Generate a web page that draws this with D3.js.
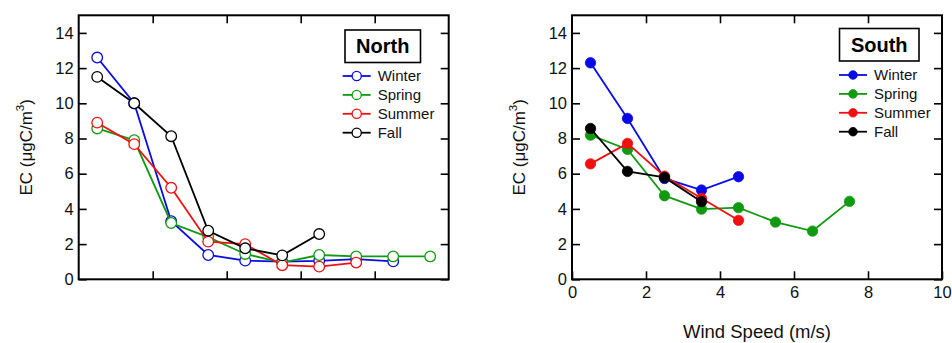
<!DOCTYPE html>
<html>
<head>
<meta charset="utf-8">
<script src="https://cdn.jsdelivr.net/npm/d3@7"></script>
<style>
  html, body { margin: 0; padding: 0; background: #fff; }
  svg { display: block; font-family: "Liberation Sans", Arial, Helvetica, sans-serif; }
</style>
</head>
<body>
<svg id="chart" width="952" height="343"></svg>
<script>
// Wind speed bins (m/s), bin centres
const northSpeeds = [0.5, 1.5, 2.5, 3.5, 4.5, 5.5, 6.5, 7.5, 8.5, 9.5];
const southSpeeds = [0.5, 1.5, 2.5, 3.5, 4.5, 5.5, 6.5, 7.5];

// EC concentration (µgC/m3) by season, North site
const northWinter = [12.6, 10.0, 3.3, 1.38, 1.06, 1.0, 1.05, 1.15, 1.02];
const northSpring = [8.57, 7.9, 3.2, 2.4, 1.44, 0.95, 1.38, 1.3, 1.3, 1.3];
const northSummer = [8.9, 7.68, 5.2, 2.14, 2.0, 0.8, 0.72, 0.95];
const northFall   = [11.5, 10.0, 8.13, 2.76, 1.76, 1.36, 2.57];

// EC concentration (µgC/m3) by season, South site
const southWinter = [12.3, 9.14, 5.73, 5.07, 5.83];
const southSpring = [8.19, 7.38, 4.75, 3.99, 4.07, 3.25, 2.74, 4.43];
const southSummer = [6.56, 7.72, 5.86, 4.6, 3.35];
const southFall   = [8.57, 6.13, 5.79, 4.41];

const seasons = ["Winter", "Spring", "Summer", "Fall"];
const seasonColors = ["#0a0ae6", "#109a10", "#f01010", "#000000"];
const yTicks = [0, 2, 4, 6, 8, 10, 12, 14];
const xTicks = [0, 2, 4, 6, 8, 10];

const svg = d3.select("#chart");

function drawPanel(opts) {
  const left = opts.left, top = 15.3, width = 370, height = 264;
  const g = svg.append("g").attr("transform", `translate(${left},${top})`);
  const x = d3.scaleLinear().domain([0, 10]).range([0, width]);
  const y = d3.scaleLinear().domain([0, 15]).range([height, 0]);

  const tickStyle = sel => {
    sel.select(".domain").remove();
    sel.selectAll(".tick line").attr("stroke", "#000").attr("stroke-width", 1.6);
    sel.selectAll(".tick text").attr("fill", "#111").attr("font-size", 16.5)
      .attr("font-family", "'Liberation Sans', Arial, sans-serif");
  };

  // axes with inward ticks on all four sides
  g.append("g").call(d3.axisLeft(y).tickValues(yTicks).tickSizeInner(-8).tickSizeOuter(0).tickPadding(5))
    .call(tickStyle);
  g.append("g").attr("transform", `translate(${width},0)`)
    .call(d3.axisRight(y).tickValues(yTicks).tickSizeInner(-8).tickSizeOuter(0).tickFormat(""))
    .call(tickStyle);
  g.append("g")
    .call(d3.axisTop(x).tickValues([2, 4, 6, 8]).tickSizeInner(-8).tickSizeOuter(0).tickFormat(""))
    .call(tickStyle);
  const bottom = g.append("g").attr("transform", `translate(0,${height})`)
    .call(d3.axisBottom(x).tickValues(opts.xLabels ? xTicks : [2, 4, 6, 8])
      .tickSizeInner(-8).tickSizeOuter(0).tickPadding(7)
      .tickFormat(opts.xLabels ? d3.format("d") : ""))
    .call(tickStyle);
  bottom.selectAll(".tick text").attr("dy", "0.71em");

  // frame
  g.append("rect").attr("x", 0).attr("y", 0).attr("width", width).attr("height", height)
    .attr("fill", "none").attr("stroke", "#000").attr("stroke-width", 2);

  // y-axis title
  const yl = g.append("text")
    .attr("transform", `translate(-47,${height / 2}) rotate(-90)`)
    .attr("text-anchor", "middle").attr("font-size", 17).attr("fill", "#111");
  yl.append("tspan").text("EC (μgC/m");
  yl.append("tspan").attr("dy", -8).attr("font-size", 11.5).text("3");
  yl.append("tspan").attr("dy", 8).text(")");

  if (opts.xTitle) {
    g.append("text").attr("x", x(5)).attr("y", 323)
      .attr("text-anchor", "middle").attr("font-size", 18.5).attr("fill", "#111")
      .text(opts.xTitle);
  }

  // series: line first, then markers, in season order
  opts.series.forEach((vals, i) => {
    const pts = vals.map((v, j) => [opts.speeds[j], v]);
    const line = d3.line().x(d => x(d[0])).y(d => y(d[1]));
    g.append("path").attr("d", line(pts)).attr("fill", "none")
      .attr("stroke", seasonColors[i]).attr("stroke-width", 1.8);
    g.selectAll(null).data(pts).join("circle")
      .attr("cx", d => x(d[0])).attr("cy", d => y(d[1])).attr("r", opts.filled ? 5.2 : 5.3)
      .attr("fill", opts.filled ? seasonColors[i] : "#fff")
      .attr("stroke", seasonColors[i]).attr("stroke-width", opts.filled ? 0.8 : 1.3);
  });

  // legend with titled box
  const lx = opts.boxX - left;
  const boxW = opts.boxW, boxH = 32.5;
  g.append("rect").attr("x", lx).attr("y", opts.boxY - top).attr("width", boxW).attr("height", boxH)
    .attr("fill", "#fff").attr("stroke", "#000").attr("stroke-width", 1.6);
  g.append("text").attr("x", lx + boxW / 2).attr("y", opts.boxY - top + 23.5)
    .attr("text-anchor", "middle").attr("font-size", 20).attr("font-weight", "bold")
    .attr("fill", "#000").text(opts.title);

  seasons.forEach((s, i) => {
    const ry = opts.legendY0 - top + i * 18.9;
    const sx = opts.legendX - left;
    g.append("line").attr("x1", sx).attr("x2", sx + 28).attr("y1", ry).attr("y2", ry)
      .attr("stroke", seasonColors[i]).attr("stroke-width", 1.8);
    g.append("circle").attr("cx", sx + 14).attr("cy", ry).attr("r", opts.filled ? 4.3 : 4.6)
      .attr("fill", opts.filled ? seasonColors[i] : "#fff")
      .attr("stroke", seasonColors[i]).attr("stroke-width", opts.filled ? 0.8 : 1.3);
    g.append("text").attr("x", sx + 35).attr("y", ry + 5.5)
      .attr("font-size", 15).attr("fill", "#111").text(s);
  });
}

drawPanel({
  left: 78.7, title: "North", filled: false, xLabels: false,
  speeds: northSpeeds, series: [northWinter, northSpring, northSummer, northFall],
  boxX: 345, boxY: 30, boxW: 75.5, legendX: 342.7, legendY0: 76
});

drawPanel({
  left: 572, title: "South", filled: true, xLabels: true, xTitle: "Wind Speed (m/s)",
  speeds: southSpeeds, series: [southWinter, southSpring, southSummer, southFall],
  boxX: 839.5, boxY: 28.5, boxW: 79.5, legendX: 839, legendY0: 75
});
</script>
</body>
</html>
